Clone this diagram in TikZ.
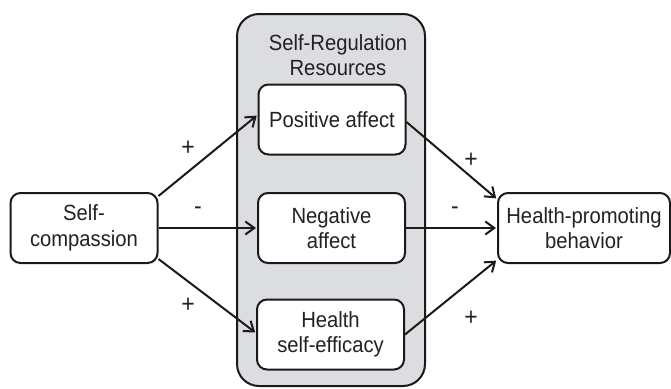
\documentclass[tikz,border=0pt]{standalone}
\usepackage{fontspec}
\setmainfont[FakeStretch=0.92]{Liberation Sans}
\usetikzlibrary{arrows.meta}

\definecolor{linecol}{HTML}{1A1A1A}
\definecolor{textcol}{HTML}{222222}
\definecolor{panelgrey}{HTML}{DCDDE0}

\begin{document}
\begin{tikzpicture}[x=1pt, y=-1pt,
    every node/.style={font=\fontsize{22}{25.5}\selectfont, text=textcol},
    box/.style={draw=linecol, line width=2pt, rounded corners=10pt, fill=white,
      align=center, minimum width=147pt, minimum height=70pt, inner sep=0pt},
    arr/.style={draw=linecol, line width=2pt, shorten >=1pt,
      -{Straight Barb[length=9pt, width=13pt, line width=2pt]}},
    sign/.style={font=\fontsize{25}{25}\selectfont}]
    \useasboundingbox (0,0) rectangle (671,388);
    \draw [fill=panelgrey, draw=linecol, line width=2pt, rounded corners=22pt]
      (237,14) rectangle (425,386);
    \node [align=center] (srr) at (338,55) {Self-Regulation\\Resources};
    \node [box] (sc) at (84,228) {Self-\\compassion};
    \node [box] (pa) at (332,119.5) {Positive affect};
    \node [box] (na) at (331.5,228) {Negative\\affect};
    \node [box] (hse) at (330.5,334.5) {Health\\self-efficacy};
    \node [box, minimum width=172pt] (hpb) at (584,228) {Health-promoting\\behavior};
    \draw [arr] ([yshift=-4]sc.north east) -- (pa.west |- 0,115);
    \draw [arr] (sc.east) -- (na.west);
    \draw [arr] ([yshift=5]sc.south east) -- (hse.west |- 0,333);
    \draw [arr] (pa.east |- 0,122) -- ([yshift=-7]hpb.north west);
    \draw [arr] (na.east) -- (hpb.west);
    \draw [arr] (hse.east) -- ([yshift=4]hpb.south west);
    \node [sign] (p1) at (188,148) {+};
    \node [sign] (m1) at (198,211) {-};
    \node [sign] (p2) at (188,305) {+};
    \node [sign] (p3) at (471,160) {+};
    \node [sign] (m2) at (455,211) {-};
    \node [sign] (p4) at (471,318) {+};
\end{tikzpicture}
\end{document}
